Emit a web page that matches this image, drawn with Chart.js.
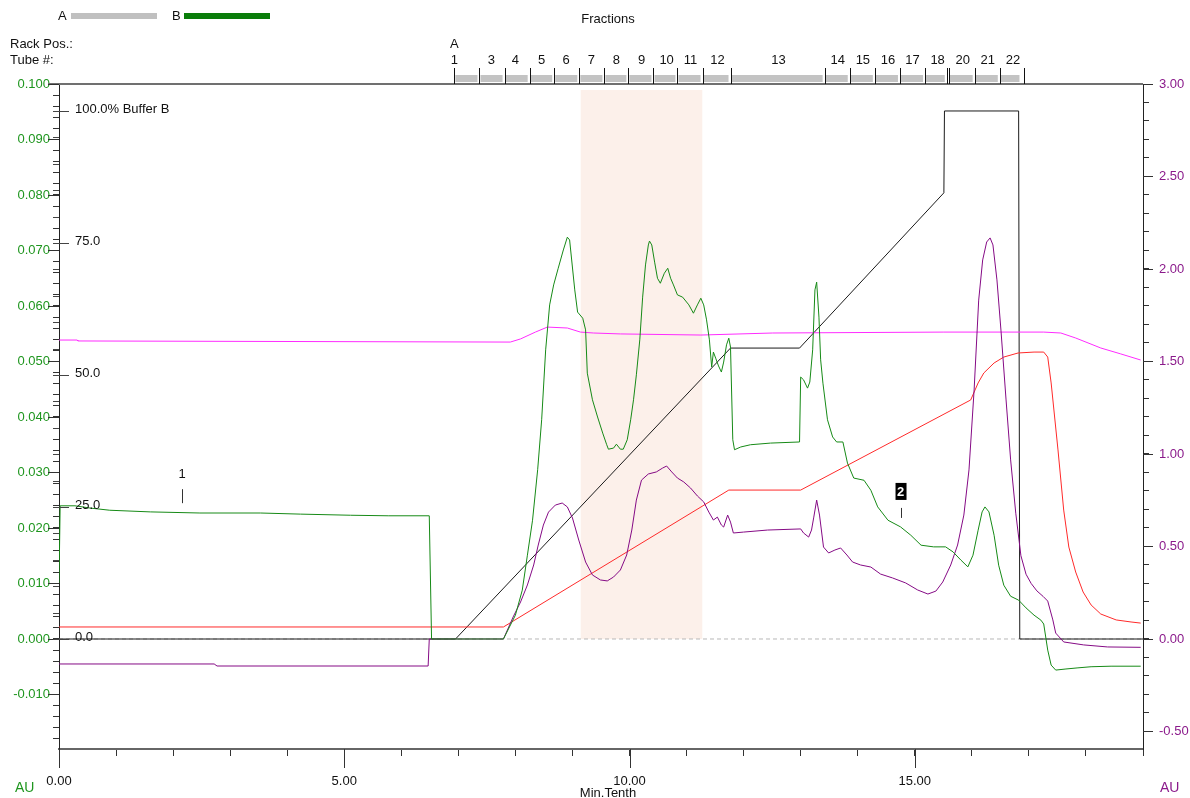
<!DOCTYPE html>
<html><head><meta charset="utf-8">
<script src="https://cdn.jsdelivr.net/npm/chart.js@4/dist/chart.umd.min.js"></script>
<style>html,body{margin:0;padding:0;background:#fff;}canvas{display:block;}</style>
</head><body>
<canvas id="c" width="1190" height="798"></canvas>
<script>
const FONT = '"Liberation Sans", Arial, sans-serif';

// ---- data (x = Min.Tenth) ----
// UV trace (left axis, AU) - green
const uvGreen = [[0,0.0101],[0.02,0.0240],[0.28,0.0240],[0.54,0.0236],[0.89,0.0232],[1.60,0.0229],[2.47,0.0227],[3.53,0.0227],[4.23,0.0225],[5.11,0.0223],[5.77,0.0222],[6.49,0.0222],[6.53,0.0],[7.79,0.0],
[8.00,0.0043],[8.12,0.0088],[8.21,0.0151],[8.30,0.0214],[8.39,0.0305],[8.46,0.0395],[8.53,0.0521],[8.60,0.0602],[8.67,0.0638],[8.75,0.0668],[8.84,0.0701],[8.91,0.0724],[8.95,0.0719],
[9.04,0.0629],[9.09,0.0589],[9.18,0.0578],[9.23,0.0557],[9.26,0.0479],[9.35,0.0431],[9.44,0.0400],[9.53,0.0371],[9.60,0.0350],[9.63,0.0342],[9.72,0.0344],[9.77,0.0351],[9.84,0.0342],[9.89,0.0342],[9.96,0.0359],
[10.02,0.0395],[10.07,0.0431],[10.12,0.0476],[10.18,0.0539],[10.23,0.0616],[10.28,0.0674],[10.33,0.0710],[10.35,0.0717],[10.39,0.0710],[10.44,0.0679],[10.49,0.0650],[10.54,0.0641],[10.61,0.0659],[10.67,0.0668],[10.72,0.0650],[10.77,0.0638],[10.84,0.0620],[10.93,0.0616],
[11.04,0.0602],[11.12,0.0587],[11.19,0.0602],[11.25,0.0614],[11.30,0.0602],[11.35,0.0575],[11.40,0.0539],[11.44,0.0490],[11.47,0.0517],[11.51,0.0506],[11.56,0.0492],[11.61,0.0481],[11.65,0.0499],[11.70,0.0530],[11.74,0.0542],[11.77,0.0526],[11.81,0.0359],[11.84,0.0341],[11.95,0.0346],
[12.12,0.0350],[12.47,0.0353],[12.98,0.0355],[13.00,0.0472],[13.05,0.0467],[13.12,0.0452],[13.16,0.0463],[13.21,0.0521],[13.25,0.0629],[13.28,0.0643],[13.32,0.0580],[13.35,0.0503],[13.39,0.0461],[13.47,0.0395],[13.56,0.0364],[13.63,0.0355],[13.74,0.0355],[13.82,0.0317],[13.93,0.0290],
[14.11,0.0286],[14.23,0.0268],[14.35,0.0238],[14.53,0.0214],[14.75,0.0202],[14.93,0.0187],[15.11,0.0169],[15.33,0.0166],[15.54,0.0166],[15.67,0.0157],[15.81,0.0142],[15.93,0.0130],
[16.02,0.0151],[16.11,0.0196],[16.18,0.0229],[16.23,0.0238],[16.30,0.0229],[16.39,0.0187],[16.47,0.0133],[16.56,0.0097],[16.68,0.0077],[16.82,0.0070],[16.95,0.0056],[17.09,0.0043],[17.21,0.0034],[17.26,0.0027],[17.33,-0.0020],[17.39,-0.0047],[17.47,-0.0056],[17.65,-0.0054],[17.86,-0.0052],[18.09,-0.0050],[18.44,-0.0049],[18.96,-0.0049]];

// second UV trace (right axis, AU) - purple
const uvPurple = [[0,-0.135],[2.72,-0.135],[2.77,-0.146],[6.47,-0.146],[6.49,0],[7.79,0],[7.96,0.119],[8.09,0.200],[8.21,0.292],[8.32,0.400],[8.40,0.508],[8.49,0.616],[8.58,0.686],[8.70,0.724],[8.82,0.735],[8.91,0.714],
[9.00,0.654],[9.11,0.535],[9.23,0.416],[9.35,0.346],[9.49,0.319],[9.61,0.314],[9.72,0.335],[9.84,0.373],[9.95,0.454],[10.04,0.589],[10.12,0.751],[10.21,0.859],[10.33,0.892],[10.47,0.903],[10.58,0.924],[10.65,0.935],[10.74,0.903],[10.84,0.870],[10.95,0.849],
[11.07,0.816],[11.19,0.773],[11.30,0.741],[11.39,0.686],[11.47,0.643],[11.54,0.659],[11.61,0.616],[11.65,0.605],[11.72,0.670],[11.77,0.632],[11.82,0.573],[12.00,0.578],[12.42,0.589],[13.00,0.595],[13.05,0.573],[13.14,0.551],[13.19,0.589],[13.23,0.659],[13.28,0.751],[13.33,0.670],[13.40,0.497],
[13.49,0.465],[13.60,0.481],[13.70,0.492],[13.81,0.454],[13.91,0.416],[14.05,0.400],[14.23,0.389],[14.40,0.351],[14.61,0.330],[14.84,0.303],[15.05,0.265],[15.23,0.243],[15.37,0.259],[15.49,0.308],[15.63,0.400],[15.75,0.508],[15.86,0.670],[15.95,0.914],
[16.04,1.346],[16.12,1.832],[16.19,2.049],[16.26,2.146],[16.32,2.168],[16.37,2.130],[16.44,1.941],[16.51,1.670],[16.60,1.292],[16.68,0.968],[16.77,0.680],[16.86,0.450],[16.95,0.350],[17.04,0.300],[17.14,0.260],[17.25,0.230],[17.33,0.205],[17.42,0.103],[17.47,0.032],[17.61,-0.016],[17.96,-0.032],[18.38,-0.043],[18.96,-0.045]];

// conductivity (right axis) - red
const condRed = [[0,0.065],[7.79,0.065],[11.74,0.805],[13.00,0.805],[15.98,1.292],[16.11,1.384],[16.21,1.438],[16.39,1.492],[16.56,1.524],[16.81,1.546],[17.09,1.551],[17.26,1.551],[17.33,1.524],[17.39,1.384],[17.51,1.022],[17.61,0.697],[17.70,0.497],[17.82,0.362],[17.95,0.254],[18.09,0.184],[18.26,0.135],[18.53,0.103],[18.79,0.092],[18.96,0.086]];

// pressure / pH (right axis) - magenta
const pressMagenta = [[0,1.616],[0.32,1.616],[0.33,1.611],[7.91,1.605],[8.09,1.622],[8.35,1.659],[8.56,1.686],[8.91,1.681],[9.14,1.659],[9.37,1.654],[9.84,1.649],[11.25,1.643],[12.51,1.654],[15.51,1.659],[17.26,1.659],[17.56,1.654],[17.82,1.627],[18.26,1.573],[18.61,1.541],[18.96,1.508]];

// % Buffer B - black
const bufferB = [[0,0],[6.95,0],[11.77,55.1],[12.98,55.1],[15.51,84.5],[15.52,100],[16.82,100],[16.84,0],[19,0]];

// shaded fraction window and zero baseline
const shadeRange = [9.14, 11.28];
const shadeTop = 0.0989;
const zeroLine = [0, 19];

// fraction collector
const fracTicks = [6.93,7.37,7.81,8.25,8.68,9.12,9.56,9.98,10.42,10.84,11.28,11.77,13.42,13.86,14.30,14.74,15.18,15.56,15.60,16.05,16.49,16.91];
const fracLabels = ['1','3','4','5','6','7','8','9','10','11','12','13','14','15','16','17','18','20','21','22'];
const fracLabelX = [6.93,7.58,8.00,8.46,8.89,9.33,9.77,10.21,10.65,11.07,11.54,12.61,13.65,14.09,14.53,14.96,15.40,15.84,16.28,16.72];
const fracBarEnd = 16.87;

// %B axis labels and event marks
const bufferLabels = [0,25,50,75,100];
const eventMarks = [{x:2.16,label:'1',boxed:false},{x:14.75,label:'2',boxed:true}];
const eventY = [0.0297, 0.0265];

const P = a => a.map(p => ({x:p[0], y:p[1]}));
const GREEN_TXT = '#1f961f', PURPLE_TXT = '#8b1a8b';

function rangeTicks(a, b, s){ const t=[]; for(let i=Math.round(a/s); i<=Math.round(b/s); i++) t.push({value: +(i*s).toFixed(6)}); return t; }
const isMult = (v, m) => Math.abs(v/m - Math.round(v/m)) < 1e-6;

const decor = {
  id:'decor',
  afterDraw(chart){
    const ctx = chart.ctx, xs = chart.scales.x, yL = chart.scales.y, yR = chart.scales.y2, yB = chart.scales.yB;
    const {left, right, top, bottom} = chart.chartArea;
    const ln = (x1,y1,x2,y2) => { ctx.beginPath(); ctx.moveTo(x1,y1); ctx.lineTo(x2,y2); ctx.stroke(); };
    ctx.save();
    // top frame line
    ctx.strokeStyle = '#707070'; ctx.lineWidth = 2; ln(left-11, top, right, top);
    // longer major ticks
    ctx.strokeStyle = '#333'; ctx.lineWidth = 1;
    for (let v=-0.01; v<=0.1001; v+=0.01) { const y = Math.round(yL.getPixelForValue(v))+0.5; ln(left-11, y, left, y); }
    for (let v=-0.5; v<=3.001; v+=0.5) { const y = Math.round(yR.getPixelForValue(v))+0.5; ln(right, y, right+10, y); }
    for (let v=0; v<=19; v+=5) { const x = Math.round(xs.getPixelForValue(v))+0.5; ln(x, bottom, x, bottom+19); }
    // %B ticks
    for (let p=0; p<=100; p+=5) {
      const y = Math.round(yB.getPixelForValue(p))+0.5;
      ctx.strokeStyle = '#444'; ln(left-6, y, left, y);
      if (p % 25 === 0) ln(left, y, left+10, y);
    }
    // %B labels
    ctx.fillStyle = '#111'; ctx.font = '13px ' + FONT; ctx.textBaseline = 'middle'; ctx.textAlign = 'left';
    bufferLabels.forEach(p => {
      const y = yB.getPixelForValue(p) - 2;
      ctx.fillText(p === 100 ? '100.0% Buffer B' : p.toFixed(1), left+16, y);
    });
    // event marks
    eventMarks.forEach((m, i) => {
      const x = xs.getPixelForValue(m.x), y = yL.getPixelForValue(eventY[i]);
      ctx.textAlign = 'center';
      if (m.boxed) {
        ctx.fillStyle = '#000'; ctx.fillRect(x-5, y-9, 11, 17);
        ctx.fillStyle = '#fff'; ctx.font = 'bold 13px ' + FONT; ctx.fillText(m.label, x, y);
      } else { ctx.fillStyle = '#111'; ctx.font = '13px ' + FONT; ctx.fillText(m.label, x, y); }
      ctx.strokeStyle = '#333'; ctx.lineWidth = 1;
      const xl = Math.round(x)+0.5; ln(xl, y+(m.boxed?16:15), xl, y+(m.boxed?26:29));
    });
    // fraction bar
    ctx.fillStyle = '#c3c3c3';
    for (let i=0; i<fracTicks.length-1; i++) {
      const a = xs.getPixelForValue(fracTicks[i]), b = Math.min(xs.getPixelForValue(fracTicks[i+1]), xs.getPixelForValue(fracBarEnd));
      if (b - a > 3) ctx.fillRect(a+1, top-9, b-a-3, 7);
    }
    ctx.strokeStyle = '#111'; ctx.lineWidth = 1;
    fracTicks.forEach(t => { const x = Math.round(xs.getPixelForValue(t))+0.5; ln(x, top-16, x, top); });
    ctx.fillStyle = '#111'; ctx.font = '13px ' + FONT; ctx.textAlign = 'center';
    fracLabels.forEach((l, i) => ctx.fillText(l, xs.getPixelForValue(fracLabelX[i]), top-24));
    ctx.fillText('A', xs.getPixelForValue(fracTicks[0]), top-40);
    ctx.fillText('Fractions', (left+right)/2 + 7, 19);
    // legend
    ctx.textAlign = 'left';
    ctx.fillText('A', 58, 16); ctx.fillStyle = '#c0c0c0'; ctx.fillRect(71, 13, 86, 6);
    ctx.fillStyle = '#111'; ctx.fillText('B', 172, 16); ctx.fillStyle = '#0a7d0a'; ctx.fillRect(184, 13, 86, 6);
    ctx.fillStyle = '#111';
    ctx.fillText('Rack Pos.:', 10, 44); ctx.fillText('Tube #:', 10, 60);
    // axis unit labels
    ctx.font = '14px ' + FONT;
    ctx.fillStyle = GREEN_TXT; ctx.fillText('AU', 15, 788);
    ctx.fillStyle = PURPLE_TXT; ctx.fillText('AU', 1160, 788);
    ctx.fillStyle = '#111'; ctx.font = '13px ' + FONT; ctx.textAlign = 'center';
    ctx.fillText('Min.Tenth', 608, 793);
    ctx.restore();
  }
};

const base = {pointRadius:0, borderWidth:1, tension:0, fill:false};
new Chart(document.getElementById('c'), {
  type:'line',
  data:{ datasets:[
    Object.assign({}, base, {label:'shade', data:P([[shadeRange[0],shadeTop],[shadeRange[1],shadeTop]]), yAxisID:'y', borderWidth:0, borderColor:'rgba(0,0,0,0)', backgroundColor:'#fcf0ea', fill:'origin', order:10}),
    Object.assign({}, base, {label:'zero', data:P([[zeroLine[0],0],[zeroLine[1],0]]), yAxisID:'y', borderColor:'#b8b8b8', borderDash:[4,3], order:9}),
    Object.assign({}, base, {label:'Buffer B', data:P(bufferB), yAxisID:'yB', borderColor:'#1a1a1a', order:5}),
    Object.assign({}, base, {label:'pressure', data:P(pressMagenta), yAxisID:'y2', borderColor:'#ff2bff', order:4}),
    Object.assign({}, base, {label:'cond', data:P(condRed), yAxisID:'y2', borderColor:'#ff2a2a', order:3}),
    Object.assign({}, base, {label:'UV2', data:P(uvPurple), yAxisID:'y2', borderColor:'#850a85', order:2}),
    Object.assign({}, base, {label:'UV1', data:P(uvGreen), yAxisID:'y', borderColor:'#168a16', order:1})
  ]},
  options:{
    responsive:false, animation:false, events:[],
    layout:{padding:{top:84, left:0, right:0, bottom:0}},
    plugins:{legend:{display:false}, tooltip:{enabled:false}},
    scales:{
      x:{type:'linear', min:0, max:19, position:'bottom',
        afterBuildTicks: s => { s.ticks = rangeTicks(0, 19, 1); },
        afterFit: s => { s.height = 49; },
        grid:{drawOnChartArea:false, tickLength:7, color:'#333'},
        border:{color:'#666', width:2},
        ticks:{autoSkip:false, maxRotation:0, padding:18, color:'#111', font:{family:FONT, size:13},
          callback: v => isMult(v,5) ? v.toFixed(2) : ''}},
      y:{type:'linear', position:'left', min:-0.01982, max:0.1,
        afterBuildTicks: s => { s.ticks = rangeTicks(-0.018, 0.1, 0.002); },
        afterFit: s => { s.width = 59; },
        grid:{drawOnChartArea:false, tickLength:6, color:'#333'},
        border:{color:'#222', width:1},
        ticks:{autoSkip:false, padding:3, color:GREEN_TXT, font:{family:FONT, size:13},
          callback: v => isMult(v,0.01) ? v.toFixed(3) : ''}},
      y2:{type:'linear', position:'right', min:-0.5946, max:3.0,
        afterBuildTicks: s => { s.ticks = rangeTicks(-0.5, 3.0, 0.1); },
        afterFit: s => { s.width = 47; },
        grid:{drawOnChartArea:false, tickLength:6, color:'#333'},
        border:{color:'#222', width:1},
        ticks:{autoSkip:false, padding:10, color:PURPLE_TXT, font:{family:FONT, size:13},
          callback: v => isMult(v,0.5) ? v.toFixed(2) : ''}},
      yB:{type:'linear', display:false, min:-20.83, max:105.11}
    }
  },
  plugins:[decor]
});
</script>
</body></html>
